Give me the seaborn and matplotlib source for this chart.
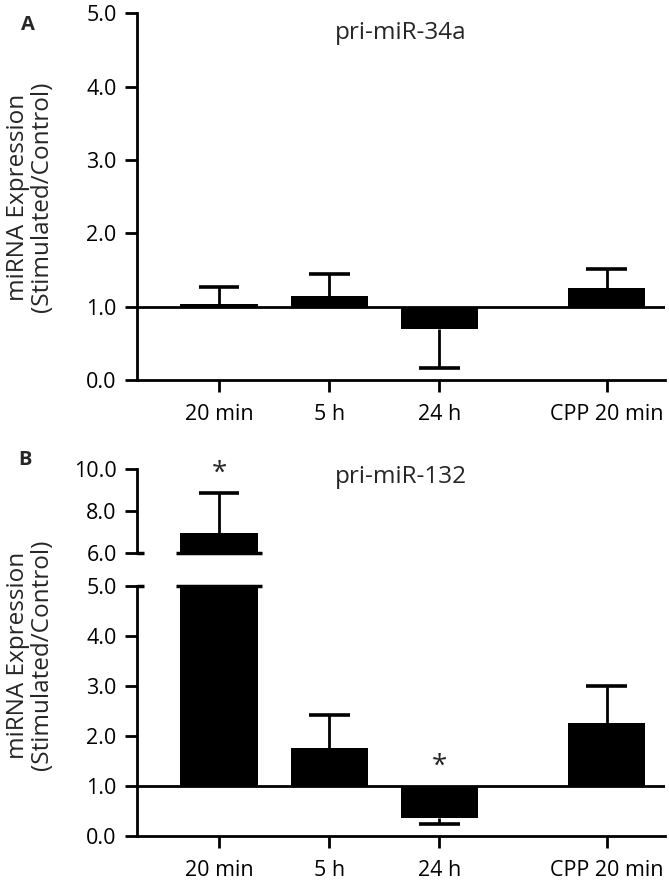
import numpy as np
import matplotlib
matplotlib.use("Agg")
import matplotlib.pyplot as plt
import seaborn as sns

# data (ratio stimulated / control, mean and SEM)
categories = ['20 min', '5 h', '24 h', 'CPP 20 min']
x_pos = [0, 1, 2, 3.52]   # CPP group set apart from the time course

mir34a_mean = [1.03, 1.15, 0.69, 1.26]
mir34a_sem = [0.24, 0.29, 0.53, 0.25]

mir132_mean = [6.97, 1.76, 0.35, 2.25]
mir132_sem = [1.90, 0.65, 0.11, 0.75]
mir132_signif = [True, False, True, False]

ticks_a = [0.0, 1.0, 2.0, 3.0, 4.0, 5.0]
ticks_b_low = [0.0, 1.0, 2.0, 3.0, 4.0, 5.0]
ticks_b_high = [6.0, 8.0, 10.0]

baseline = 1.0
LW = 2.0

sns.set_style('ticks')
plt.rcParams['font.family'] = ['Open Sans', 'DejaVu Sans']
plt.rcParams['axes.linewidth'] = LW

W, H = 669, 886
fig = plt.figure(figsize=(W / 100, H / 100), dpi=100)

def px_axes(left, top, right, bottom):
    return fig.add_axes([left / W, 1 - bottom / H, (right - left) / W, (bottom - top) / H])

axA = px_axes(137, 13.3, 665, 380)
axB_hi = px_axes(137, 469.3, 665, 553.3)
axB_lo = px_axes(137, 585.7, 665, 836)

xlim = (-0.745, 4.05)


def draw_bars(ax, mean, sem):
    heights = [m - baseline for m in mean]
    sns.barplot(x=x_pos, y=heights, native_scale=True, orient='x', width=0.7,
                color='black', saturation=1, bottom=baseline, errorbar=None,
                linewidth=0, ax=ax)
    # one-sided error bars, away from the baseline
    for x, m, s in zip(x_pos, mean, sem):
        tip = m + s if m >= baseline else m - s
        ax.vlines(x, m, tip, color='black', lw=LW)
        ax.hlines(tip, x - 0.185, x + 0.185, color='black', lw=LW + 0.6)
    ax.axhline(baseline, color='black', lw=LW)


def style_axis(ax, ylim, ticks, show_x=True):
    ax.set_xlim(*xlim)
    ax.set_ylim(*ylim)
    ax.set_yticks(ticks)
    ax.set_yticklabels([f'{t:.1f}' for t in ticks])
    sns.despine(ax=ax, bottom=not show_x)
    ax.tick_params(axis='y', length=8.6, width=LW, pad=6, labelsize=15.5, colors='black')
    ax.spines['left'].set_color('black')
    ax.spines['bottom'].set_color('black')
    if show_x:
        ax.set_xticks(x_pos)
        ax.set_xticklabels(categories)
        ax.tick_params(axis='x', length=8.6, width=LW, pad=9, labelsize=15.5, colors='black')
    else:
        ax.set_xticks([])
    ax.set_xlabel('')
    ax.set_ylabel('')


# panel A
draw_bars(axA, mir34a_mean, mir34a_sem)
style_axis(axA, (0, 5), ticks_a)
axA.text(0.5, 4.73, 'pri-miR-34a', transform=axA.get_yaxis_transform(),
         ha='center', va='center', fontsize=17.5)

# panel B, broken y axis
for ax in (axB_hi, axB_lo):
    draw_bars(ax, mir132_mean, mir132_sem)
style_axis(axB_hi, (6, 10), ticks_b_high, show_x=False)
style_axis(axB_lo, (0, 5), ticks_b_low)
axB_hi.text(0.5, 9.63, 'pri-miR-132', transform=axB_hi.get_yaxis_transform(),
            ha='center', va='center', fontsize=17.5)

# break marks on the axis and across the cut bar
for ax, yb in ((axB_hi, 6.0), (axB_lo, 5.0)):
    ax.plot([0, 0.014], [yb, yb], color='black', lw=LW + 0.5,
            transform=ax.get_yaxis_transform(), clip_on=False, solid_capstyle='butt')
    for x, m in zip(x_pos, mir132_mean):
        if m > 6.0:
            ax.hlines(yb, x - 0.39, x + 0.39, color='black', lw=LW + 0.5, clip_on=False)

# significance stars
for x, m, s, sig in zip(x_pos, mir132_mean, mir132_sem, mir132_signif):
    if not sig:
        continue
    y_ref = m + s if m >= baseline else baseline
    ax = axB_hi if y_ref > 6 else axB_lo
    ax.annotate('*', (x, y_ref), xytext=(0, 14), textcoords='offset points',
                ha='center', va='center', fontsize=20, annotation_clip=False)

# panel letters and y labels
fig.text(28 / W, 1 - 25 / H, 'A', fontsize=14.5, fontweight='bold', ha='center', va='center')
fig.text(25 / W, 1 - 460 / H, 'B', fontsize=14.5, fontweight='bold', ha='center', va='center')
ylab = 'miRNA Expression\n(Stimulated/Control)'
fig.text(30 / W, 1 - 197 / H, ylab, rotation=90, ha='center', va='center',
         fontsize=17.5, linespacing=1.05)
fig.text(30 / W, 1 - 655 / H, ylab, rotation=90, ha='center', va='center',
         fontsize=17.5, linespacing=1.05)

fig.savefig('out.png', dpi=100)
